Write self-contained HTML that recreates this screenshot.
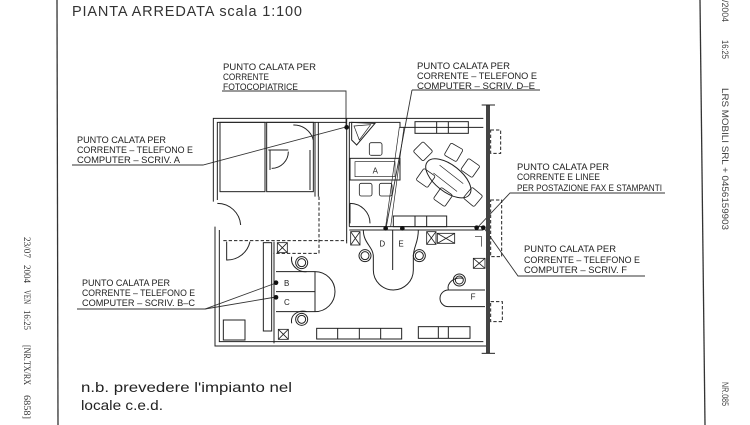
<!DOCTYPE html>
<html><head><meta charset="utf-8"><style>
html,body{margin:0;padding:0;background:#fff;}
svg{display:block;}
.t{font-family:"Liberation Sans",sans-serif;font-size:9.4px;fill:#222;}
</style></head><body>
<svg width="750" height="425" viewBox="0 0 750 425" xmlns="http://www.w3.org/2000/svg">
<rect width="750" height="425" fill="#fff"/>
<line x1="57" y1="0" x2="58" y2="425" stroke="#333" stroke-width="1.3"/>
<line x1="700" y1="0" x2="705" y2="425" stroke="#333" stroke-width="1.3"/>
<g font-family="Liberation Serif,serif" font-size="9" fill="#333">
<text transform="translate(24,237) rotate(90)" textLength="21" lengthAdjust="spacingAndGlyphs">23/07</text>
<text transform="translate(24,265) rotate(90)" textLength="18" lengthAdjust="spacingAndGlyphs">2004</text>
<text transform="translate(24,290) rotate(90)" textLength="14" lengthAdjust="spacingAndGlyphs">VEN</text>
<text transform="translate(24,310) rotate(90)" textLength="20" lengthAdjust="spacingAndGlyphs">16:25</text>
<text transform="translate(24,345) rotate(90)" textLength="40" lengthAdjust="spacingAndGlyphs">[NR.TX/RX</text>
<text transform="translate(24,395) rotate(90)" textLength="24" lengthAdjust="spacingAndGlyphs">6858]</text>
</g>
<g font-family="Liberation Sans,sans-serif" font-size="9" fill="#444">
<text transform="translate(722,0) rotate(90)" textLength="22" lengthAdjust="spacingAndGlyphs">/2004</text>
<text transform="translate(722,40) rotate(90)" textLength="19" lengthAdjust="spacingAndGlyphs">16:25</text>
<text transform="translate(722,88) rotate(90)" textLength="142" lengthAdjust="spacingAndGlyphs">LRS MOBILI SRL + 0456159903</text>
<text transform="translate(722,382) rotate(90)" textLength="24" lengthAdjust="spacingAndGlyphs">NR.085</text>
</g>
<text x="72" y="16" font-family="Liberation Sans,sans-serif" font-size="14.5" fill="#333" textLength="230" lengthAdjust="spacing">PIANTA ARREDATA  scala 1:100</text>
<g class="t">
<text x="223" y="70" textLength="93" lengthAdjust="spacingAndGlyphs">PUNTO CALATA PER</text>
<text x="223" y="80" textLength="46" lengthAdjust="spacingAndGlyphs">CORRENTE</text>
<text x="223" y="90" textLength="75" lengthAdjust="spacingAndGlyphs">FOTOCOPIATRICE</text>
<text x="417" y="69" textLength="93" lengthAdjust="spacingAndGlyphs">PUNTO CALATA PER</text>
<text x="417" y="79" textLength="120" lengthAdjust="spacingAndGlyphs">CORRENTE – TELEFONO E</text>
<text x="417" y="89" textLength="118" lengthAdjust="spacingAndGlyphs">COMPUTER – SCRIV. D–E</text>
<text x="77" y="143" textLength="89" lengthAdjust="spacingAndGlyphs">PUNTO CALATA PER</text>
<text x="77" y="153" textLength="116" lengthAdjust="spacingAndGlyphs">CORRENTE – TELEFONO E</text>
<text x="77" y="163" textLength="103" lengthAdjust="spacingAndGlyphs">COMPUTER – SCRIV. A</text>
<text x="517" y="170" textLength="92" lengthAdjust="spacingAndGlyphs">PUNTO CALATA PER</text>
<text x="517" y="180" textLength="83" lengthAdjust="spacingAndGlyphs">CORRENTE E LINEE</text>
<text x="517" y="191" textLength="145" lengthAdjust="spacingAndGlyphs">PER POSTAZIONE FAX E STAMPANTI</text>
<text x="524" y="252" textLength="92" lengthAdjust="spacingAndGlyphs">PUNTO CALATA PER</text>
<text x="524" y="263" textLength="116" lengthAdjust="spacingAndGlyphs">CORRENTE – TELEFONO E</text>
<text x="524" y="273" textLength="103" lengthAdjust="spacingAndGlyphs">COMPUTER – SCRIV. F</text>
<text x="82" y="286" textLength="88" lengthAdjust="spacingAndGlyphs">PUNTO CALATA PER</text>
<text x="82" y="296" textLength="113" lengthAdjust="spacingAndGlyphs">CORRENTE – TELEFONO E</text>
<text x="82" y="306" textLength="113" lengthAdjust="spacingAndGlyphs">COMPUTER – SCRIV. B–C</text>
</g>
<text x="81" y="392" font-family="Liberation Sans,sans-serif" font-size="14" fill="#222" textLength="211" lengthAdjust="spacingAndGlyphs">n.b. prevedere l'impianto nel</text>
<text x="81" y="410" font-family="Liberation Sans,sans-serif" font-size="14" fill="#222" textLength="82" lengthAdjust="spacingAndGlyphs">locale c.e.d.</text>
<g stroke="#333" stroke-width="0.9" fill="none">
<polyline points="222,91 346,91 346,127"/>
<polyline points="412,90 540,90"/>
<line x1="412" y1="90" x2="386" y2="228"/>
<polyline points="72,165 203,165 346,127"/>
<polyline points="665,193 510,193 477,228"/>
<polyline points="645,276 518,276 484,228"/>
<polyline points="77,309 205,309 276,283"/>
<line x1="205" y1="309" x2="276" y2="297"/>
</g>
<g transform="translate(200,90) scale(0.33333)" fill="none" stroke="#222" stroke-width="3">
<path d="M40,335 V85 H850"/>
<path d="M52,330 V97 H440"/>
<path d="M447,97 H600 V112 H850"/>
<path d="M45,410 V768 H860"/>
<path d="M58,420 V755 H850"/>
<line x1="864" y1="45" x2="864" y2="790" stroke="#444" stroke-width="12"/>
<line x1="845" y1="45" x2="885" y2="45"/>
<line x1="845" y1="790" x2="885" y2="790"/>
<g stroke-dasharray="10,6"><rect x="872" y="120" width="30" height="70"/><rect x="872" y="330" width="33" height="170"/><rect x="872" y="635" width="35" height="60"/></g>
<rect x="60" y="97" width="135" height="208"/>
<rect x="200" y="97" width="140" height="208"/>
<path d="M205,180 H265 M330,180 V300 M210,180 V240"/>
<path d="M280,105 A60,60 0 0 1 340,150"/>
<path d="M215,235 A50,50 0 0 0 265,185"/>
<path d="M52,340 A70,70 0 0 1 122,405"/>
<path d="M345,97 V320 M355,97 V320"/>
<g stroke-dasharray="10,6"><path d="M357,320 V490 H220"/><path d="M70,452 H440"/></g>
<path d="M440,85 V460 M448,97 V410"/>
<path d="M448,410 H850 M448,420 H850"/>
<path d="M450,340 A60,60 0 0 1 510,400 M450,340 V400"/>
<path d="M598,112 L557,410 M612,112 L572,410" stroke-width="2"/>
<path d="M455,97 L525,100 L470,165 L455,150 Z"/>
<path d="M462,108 L512,104 L478,150 Z" stroke-width="2"/>
<rect x="450" y="205" width="150" height="65"/>
<rect x="465" y="215" width="120" height="45" stroke-width="2"/>
<text x="518" y="250" font-family="Liberation Sans,sans-serif" font-size="24" fill="#222" stroke="none">A</text>
<g stroke-width="2.5"><rect x="508" y="158" width="38" height="38" rx="6"/><rect x="478" y="280" width="38" height="38" rx="6"/><rect x="538" y="280" width="38" height="38" rx="6"/></g>
<rect x="645" y="95" width="160" height="35"/><path d="M710,95 V130 M745,95 V130"/>
<g transform="rotate(38 745 265)"><ellipse cx="745" cy="265" rx="80" ry="40"/><path d="M700,250 H790 M700,280 H790" stroke-width="2"/></g>
<g stroke-width="2.5">
<rect x="648" y="163" width="42" height="42" rx="5" transform="rotate(45 669 184)"/>
<rect x="740" y="166" width="42" height="42" rx="5" transform="rotate(30 761 187)"/>
<rect x="790" y="213" width="42" height="42" rx="5" transform="rotate(35 811 234)"/>
<rect x="798" y="300" width="42" height="42" rx="5" transform="rotate(40 819 321)"/>
<rect x="708" y="300" width="42" height="42" rx="5" transform="rotate(35 729 321)"/>
<rect x="656" y="243" width="42" height="42" rx="5" transform="rotate(35 677 264)"/>
</g>
<rect x="580" y="378" width="160" height="32"/><path d="M645,378 V410 M680,378 V410"/>
<g stroke-width="2.5">
<rect x="452" y="425" width="28" height="40"/><path d="M452,425 L480,465 M480,425 L452,465"/>
<rect x="680" y="425" width="28" height="38"/><path d="M680,425 L708,463 M708,425 L680,463"/>
<rect x="712" y="430" width="52" height="30"/><path d="M712,430 L764,460 M764,430 L712,460"/>
<rect x="232" y="458" width="30" height="30"/><path d="M232,458 L262,488 M262,458 L232,488"/>
<rect x="235" y="718" width="30" height="30"/><path d="M235,718 L265,748 M265,718 L235,748"/>
<rect x="820" y="505" width="35" height="30"/><path d="M820,505 L855,535 M855,505 L820,535"/>
</g>
<path d="M825,440 H845 V470" stroke-width="2"/>
<rect x="190" y="458" width="25" height="265"/>
<path d="M222,455 V760"/>
<rect x="70" y="690" width="65" height="60"/>
<path d="M80,455 V510 A70,70 0 0 0 150,455"/>
<path d="M228,545 H345 A60,60 0 0 1 345,665 H228"/>
<path d="M228,605 H345 M345,545 V665"/>
<path d="M275,500 C270,530 300,548 320,545 M275,700 C270,670 300,660 320,665"/>
<text x="252" y="588" font-family="Liberation Sans,sans-serif" font-size="24" fill="#222" stroke="none">B</text>
<text x="252" y="645" font-family="Liberation Sans,sans-serif" font-size="24" fill="#222" stroke="none">C</text>
<path d="M578,420 V540"/>
<path d="M520,540 A60,60 0 0 0 640,540"/>
<path d="M490,420 C490,460 520,470 520,500 V540 M655,420 C655,460 640,470 640,500 V540"/>
<text x="538" y="470" font-family="Liberation Sans,sans-serif" font-size="24" fill="#222" stroke="none">D</text>
<text x="595" y="470" font-family="Liberation Sans,sans-serif" font-size="24" fill="#222" stroke="none">E</text>
<path d="M855,600 H745 A25,25 0 0 0 745,650 H855"/>
<path d="M745,600 C740,580 760,560 790,565"/>
<text x="812" y="628" font-family="Liberation Sans,sans-serif" font-size="24" fill="#222" stroke="none">F</text>
<g stroke-width="3">
<circle cx="305" cy="518" r="18"/><circle cx="305" cy="518" r="12"/>
<circle cx="305" cy="688" r="18"/><circle cx="305" cy="688" r="12"/>
<circle cx="495" cy="497" r="18"/><circle cx="495" cy="497" r="12"/>
<circle cx="658" cy="497" r="18"/><circle cx="658" cy="497" r="12"/>
<circle cx="778" cy="570" r="18"/><circle cx="778" cy="570" r="12"/>
</g>
<rect x="350" y="715" width="255" height="32"/><path d="M413,715 V747 M478,715 V747 M542,715 V747"/>
<rect x="655" y="710" width="155" height="35"/><path d="M715,710 V745 M745,710 V745"/>
<g fill="#111" stroke="none">
<circle cx="440" cy="112" r="7"/><circle cx="557" cy="415" r="7"/><circle cx="607" cy="415" r="7"/>
<circle cx="830" cy="413" r="7"/><circle cx="850" cy="413" r="7"/>
<circle cx="228" cy="578" r="7"/><circle cx="228" cy="622" r="7"/>
</g>
</g>
</svg>
</body></html>
